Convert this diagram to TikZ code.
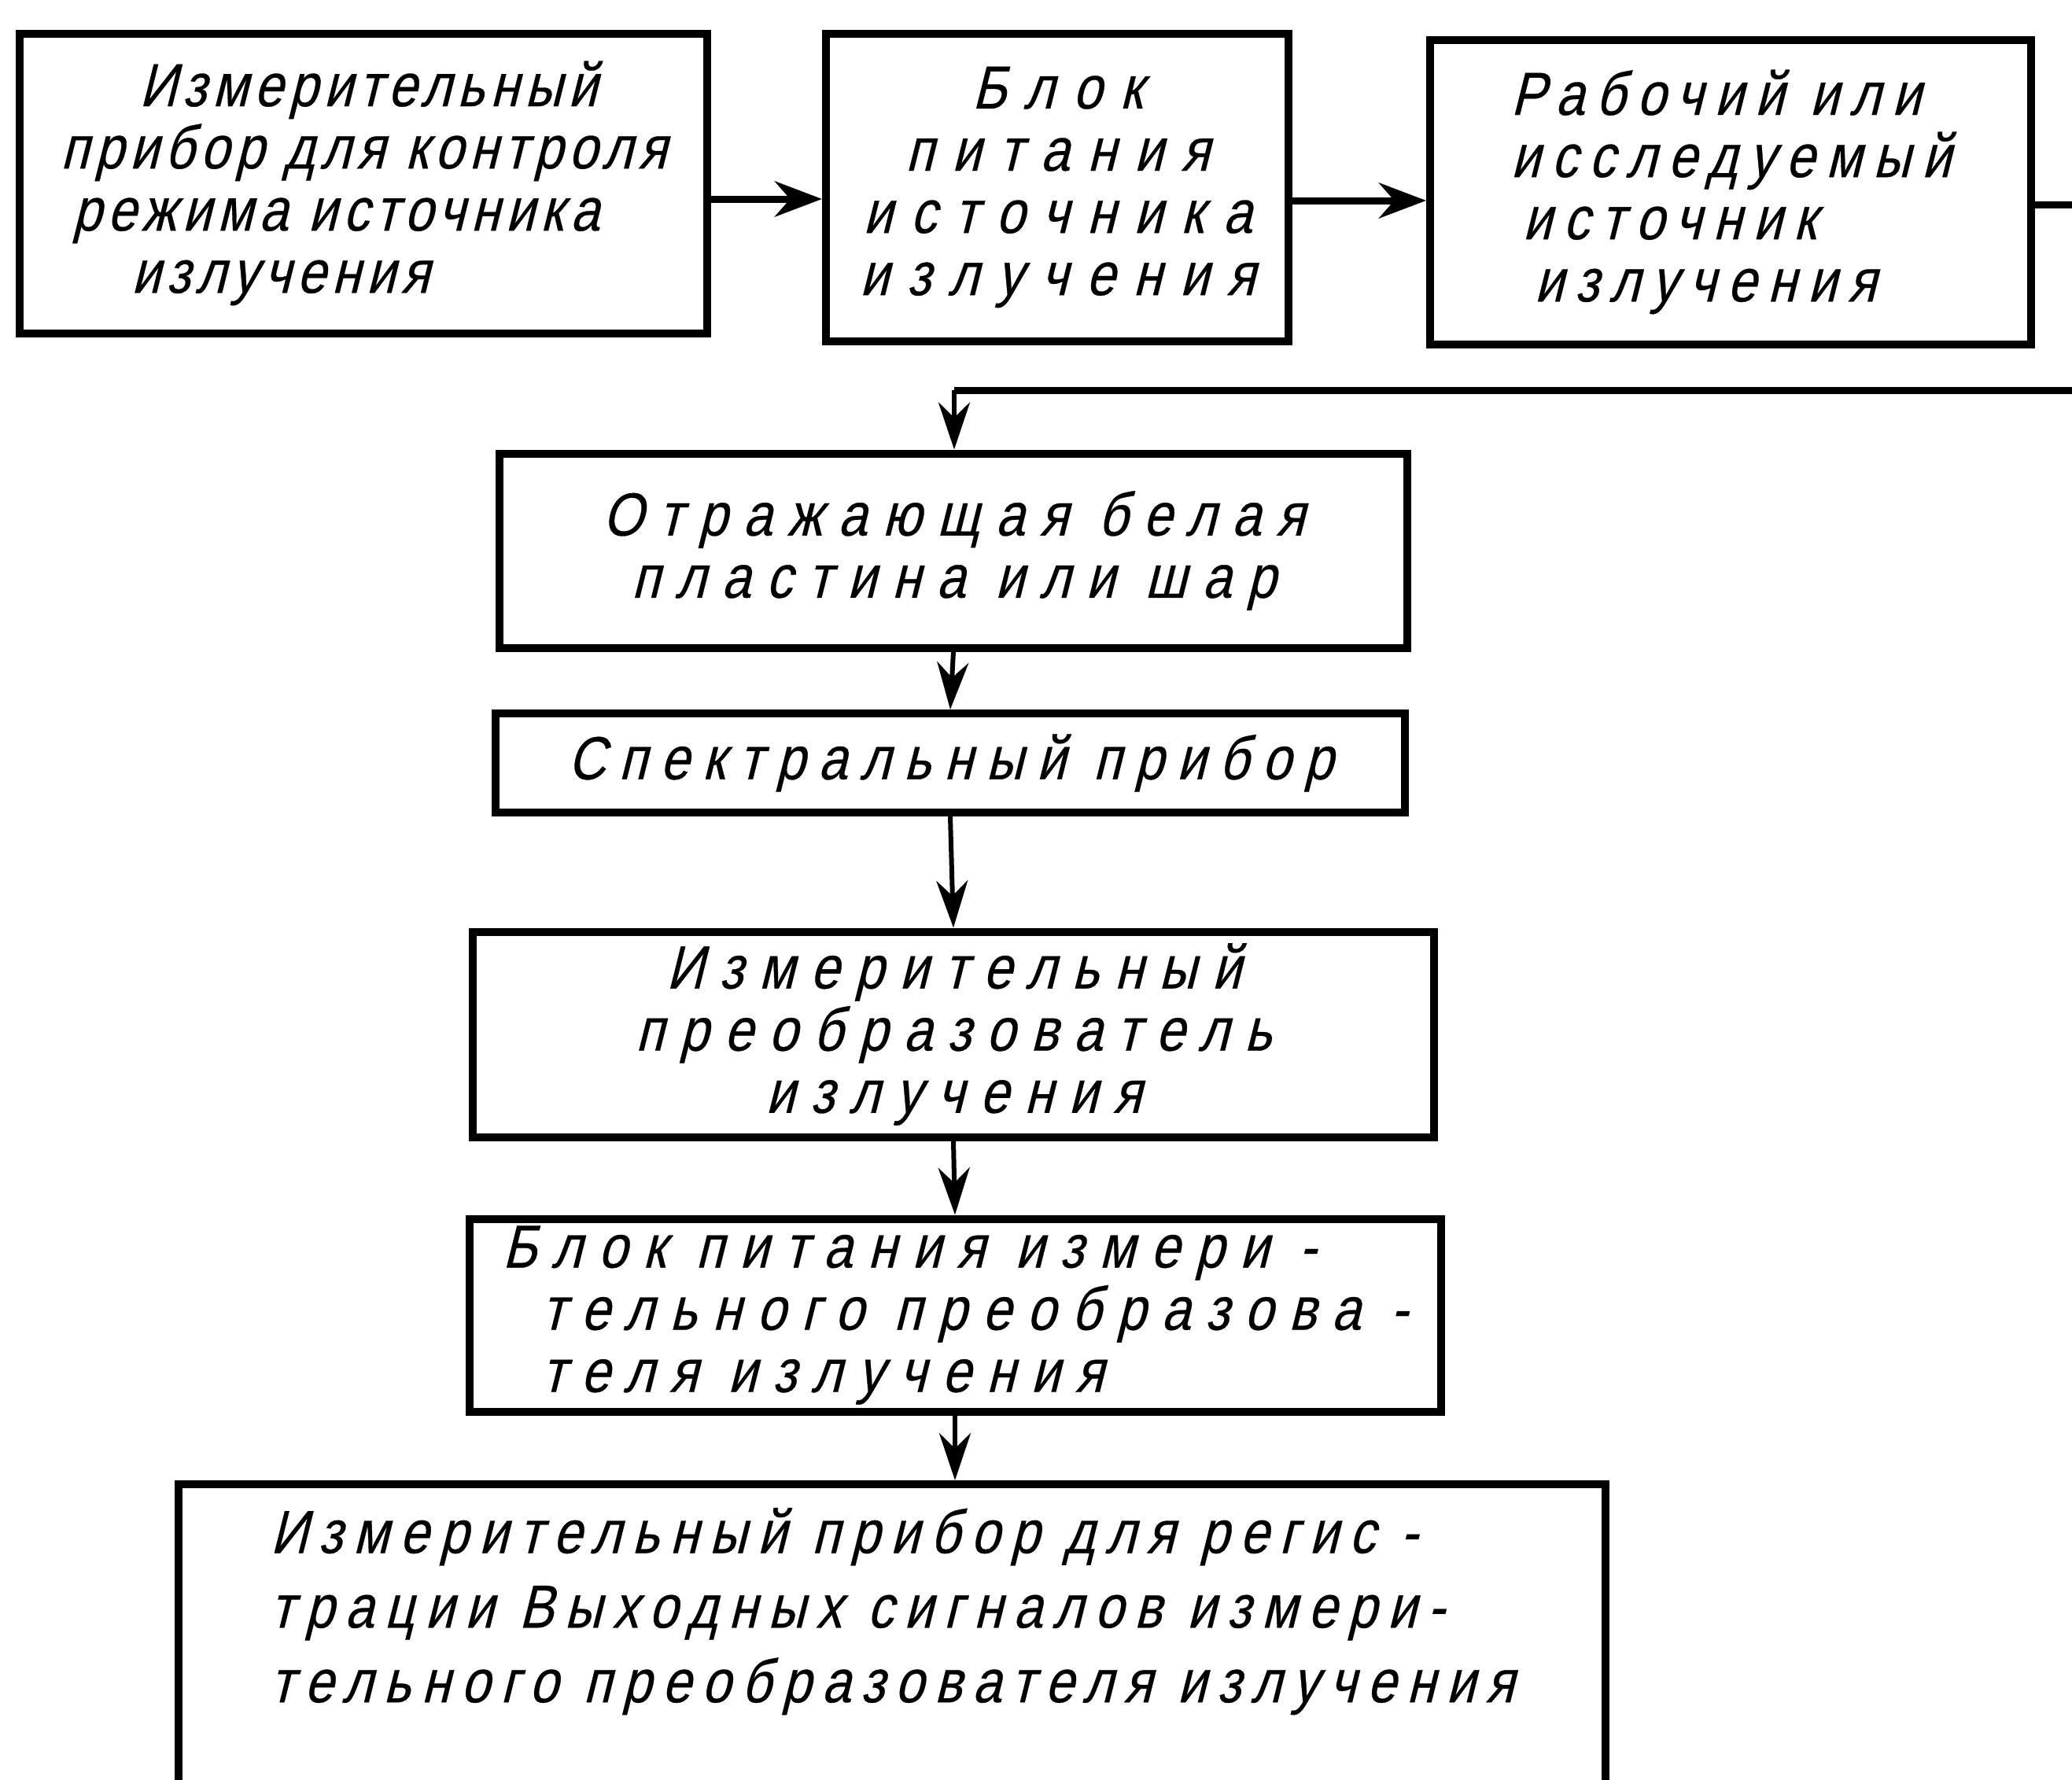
\documentclass[tikz,border=0pt]{standalone}
\usepackage{fontspec}
\setmainfont{Liberation Sans}[FakeSlant=0.25,FakeStretch=0.85,LetterSpace=26,FakeBold=0.4]
\usetikzlibrary{arrows.meta}
\newcommand{\gostsize}{\fontsize{22}{22.5}\selectfont}

\begin{document}
\begin{tikzpicture}[
	blok/.style={draw,line width=0.1cm,inner sep=0pt,align=center,font=\gostsize},
	flow/.style={line width=0.09cm,-{Stealth[length=6mm,width=4.5mm]}},
	down/.style={line width=0.06cm,-{Stealth[length=6mm,width=4mm]}}
]
	\useasboundingbox (0,0) rectangle (26.34,-22.63);

	% Top row
	\node[blok,minimum width=8.74cm,minimum height=3.81cm,align=left,font=\gostsize\addfontfeature{LetterSpace=10}] (control) at (4.62,-2.33) {\hspace*{1cm}Измерительный\\прибор для контроля\\\hspace*{0.15cm}режима источника\\\hspace*{0.9cm}излучения};
	\node[blok,minimum width=5.88cm,minimum height=3.91cm,font=\gostsize\addfontfeature{LetterSpace=30}] (supply) at (13.44,-2.38) {Блок\\питания\\источника\\излучения};
	\node[blok,minimum width=7.64cm,minimum height=3.87cm,align=left,font=\gostsize\addfontfeature{LetterSpace=19}] (source) at (22.0,-2.44) {Рабочий или\\исследуемый\\\hspace*{0.15cm}источник\\\hspace*{0.3cm}излучения};

	% Column of blocks
	\node[blok,minimum width=11.54cm,minimum height=2.47cm] (plate) at (12.12,-7.0) {Отражающая белая\\пластина или шар};
	\node[blok,minimum width=11.56cm,minimum height=1.26cm,font=\gostsize\addfontfeature{LetterSpace=22}] (spectr) at (12.08,-9.7) {Спектральный прибор};
	\node[blok,minimum width=12.22cm,minimum height=2.61cm] (conv) at (12.12,-13.15) {Измерительный\\преобразователь\\излучения};
	\node[blok,minimum width=12.35cm,minimum height=2.45cm,align=left] (convsupply) at (12.14,-16.72) {Блок питания измери -\\\hspace*{0.5cm}тельного преобразова -\\\hspace*{0.5cm}теля излучения};
	\node[blok,anchor=north,minimum width=18.14cm,inner ysep=0.3cm,text depth=1.8cm,align=left,font=\fontsize{22}{27}\selectfont\addfontfeature{LetterSpace=18}] (register) at (11.34,-18.82) {Измерительный прибор для регис -\\трации Выходных сигналов измери-\\тельного преобразователя излучения};

	% Feedback path from the source
	\coordinate (rt) at (26.9,-2.6);
	\coordinate (rb) at (26.9,-4.96);
	\coordinate (fb) at (12.13,-4.96);

	% Connectors
	\draw[flow] ([yshift=-2mm]control.east) -- ([yshift=-2mm]control.east -| supply.west);
	\draw[flow] ([yshift=-1.7mm]supply.east) -- ([yshift=-1.7mm]supply.east -| source.west);
	\draw[line width=0.09cm] (source.east |- rt) -- (rt) -- (rb) -- (fb);
	\draw[down] (fb) -- (fb |- plate.north);
	\draw[down] (plate.south) -- (spectr.north);
	\draw[down] (spectr.south) -- (conv.north);
	\draw[down] (conv.south) -- (convsupply.north);
	\draw[down] (convsupply.south) -- (convsupply.south |- register.north);
\end{tikzpicture}
\end{document}
